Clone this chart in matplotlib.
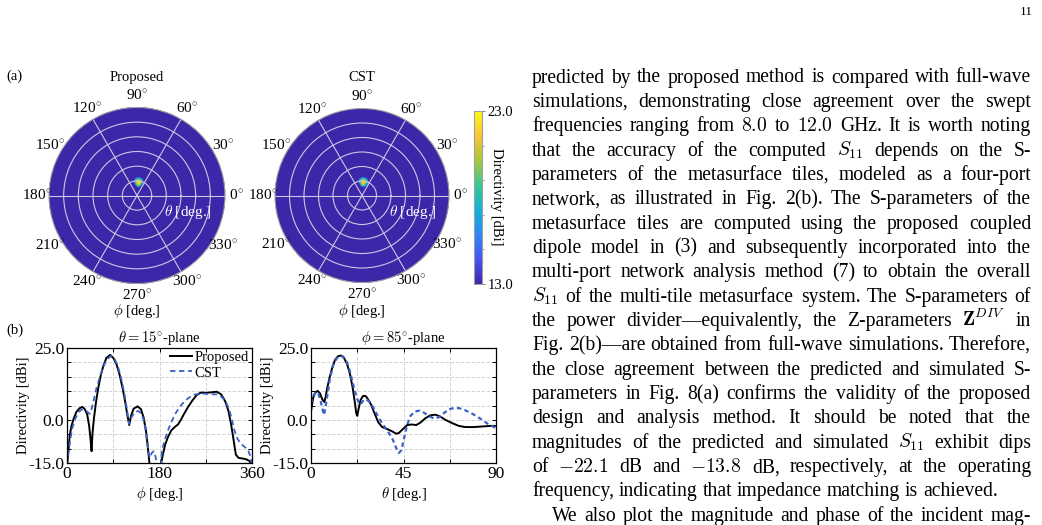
import numpy as np
import matplotlib
matplotlib.use('Agg')
import matplotlib.pyplot as plt
from matplotlib.colors import LinearSegmentedColormap

plt.rcParams['font.family'] = ['Liberation Serif', 'DejaVu Serif']
plt.rcParams['mathtext.fontset'] = 'cm'

# theta = 15 deg plane: directivity [dBi] vs phi [deg]
phi_prop = [0, 2.6, 5.2, 8.5, 13.1, 18.3, 24.2, 29.5, 34, 39.3, 43.2, 45.8, 47.8, 49.7,
            52.4, 56.3, 60.9, 65.5, 70.7, 76.6, 83.8, 90.3, 96.2, 102.1, 108, 113.2,
            117.8, 121.1, 124.4, 129.6, 137.4, 144, 149.2, 153.8, 157.1, 160.4, 163,
            181, 183.3, 186.5, 191.1, 196.4, 202.9, 209.5, 216, 221.2, 227.8, 235.6,
            243.5, 252, 260.5, 271.6, 281.4, 291.3, 299.8, 307.6, 314.2, 319.4, 324,
            328.6, 333.8, 343.6, 350.2, 355.4, 360]
dir_phi_prop = [-16, -10.9, -5.7, -2.2, 0.5, 2.8, 4.0, 4.5, 3.9, 1.9, -2.2, -6.8, -10.9,
                -4.5, 0.5, 6.0, 11.2, 15.3, 18.8, 21.5, 22.6, 21.5, 19.4, 15.9, 11.2,
                6.3, 1.3, -1.8, 1.3, 3.9, 4.7, 3.7, 0.7, -3.9, -9.2, -15, -20,
                -20, -15, -12.1, -8.6, -6.0, -3.7, -2.5, -1.6, -0.1, 2.1, 4.5,
                6.6, 8.6, 9.5, 9.4, 9.6, 9.8, 8.9, 6.6, 3.1, -1.6, -6.8,
                -12.1, -13.2, -13.5, -13.8, -14.4, -15.6]
phi_cst = [0, 3.3, 6.5, 10.5, 16.4, 22.9, 29.5, 36, 41.2, 44.5, 47.8, 52.4, 57.6, 63.5,
           70, 77.2, 85.1, 91.6, 98.2, 104.7, 111.3, 116.5, 121.1, 125.7, 132.2, 138.8,
           145.3, 150.5, 154.5, 158.4, 161, 164.9, 168.9, 172.1, 175.4, 178,
           181, 184.6, 189.8, 196.4, 202.9, 210.7, 219.3, 227.8, 236.9, 246.7, 256.6,
           268.3, 280.1, 291.3, 301.1, 308.9, 315.5, 320.7, 325.9, 331.8, 338.4, 345.6,
           352.2, 356.7, 360]
dir_phi_cst = [-15.6, -10.9, -6.8, -2.7, 0.5, 2.8, 3.7, 3.4, 2.5, 2.1, 3.7, 7.2, 11.2, 14.7,
               18.2, 20.9, 22.2, 21.4, 19.2, 15.0, 9.5, 3.7, -1.4, 1.0, 2.7, 3.1,
               2.1, -1.0, -5.7, -10.9, -13.2, -11.5, -10.9, -12.7, -15.6, -20,
               -20, -10.9, -7.2, -3.7, -0.8, 2.1, 4.5, 6.3, 7.7, 8.7, 9.1,
               9.1, 8.9, 8.9, 8.0, 6.3, 3.7, 0.2, -3.7, -6.6, -8.3, -9.4,
               -10.3, -12.7, -15.6]

# phi = 85 deg plane: directivity [dBi] vs theta [deg]
theta_prop = [0, 0.5, 1.1, 2.1, 3.2, 4.4, 5.5, 6.5, 7.1, 7.9, 9.1, 10.4, 11.7, 13.1, 14.6,
              16, 17.5, 18.9, 20.2, 21.4, 22, 22.5, 23.2, 24.1, 25.3, 26.6, 27.8, 29.3,
              30.9, 32.7, 34.6, 37.1, 39.5, 41.4, 42.7, 44.7, 46.8, 48.9, 51.2, 53.3,
              55.7, 58.1, 60.6, 63, 65.4, 68.6, 71.9, 75.1, 79.2, 83.2, 87.3, 90]
dir_theta_prop = [2.9, 5.2, 7.8, 9.5, 10.1, 9.2, 7.1, 6.2, 8.0, 11.1, 14.9, 18.3, 20.9, 22.1,
                  22.4, 21.6, 19.5, 16.1, 11.5, 5.7, 2.3, 1.4, 4.0, 6.9, 8.3, 8.3, 7.1, 5.2,
                  2.3, -0.8, -2.5, -3.2, -4.0, -4.8, -4.6, -3.2, -1.8, -1.6, -1.8, -0.9,
                  0.6, 1.6, 1.8, 1.1, 0.0, -1.1, -2.1, -2.5, -2.5, -2.3, -2.1, -2.1]
theta_cst = [0, 1, 2.3, 3.4, 4.5, 5.5, 6.3, 7.1, 8.1, 9.2, 10.7, 12.3, 13.9, 15.5, 17.2,
             18.8, 20.4, 22, 23.3, 24.3, 25.6, 26.9, 28.5, 30.6, 33, 35.5, 37.9, 39.8,
             41.4, 42.7, 44, 45.3, 46.8, 48.4, 50.5, 52.8, 55, 57.3, 59.7, 62.2, 64.6,
             67, 69.5, 71.9, 74.8, 77.5, 80.3, 83.2, 86.1, 90]
dir_theta_cst = [5.7, 8.3, 9.6, 9.4, 7.1, 4.0, 1.7, 4.6, 9.2, 14.3, 18.9, 21.2, 22.2, 22.1,
                 20.6, 17.2, 12.6, 8.3, 5.7, 5.5, 6.9, 7.1, 6.3, 4.0, 0.6, -2.1, -4.6, -6.9,
                 -9.7, -11.5, -10.6, -6.3, -1.7, 1.4, 2.9, 3.2, 2.5, 1.4, 0.5, 0.9, 2.3,
                 3.7, 4.1, 4.1, 3.4, 2.5, 1.4, 0.0, -1.4, -2.9]

polar_angles = list(range(0, 360, 30))
cbar_range = [13.0, 23.0]

parula = LinearSegmentedColormap.from_list('parula', [
    (0.2422, 0.1504, 0.6603), (0.2810, 0.3228, 0.9579), (0.1786, 0.5289, 0.9682),
    (0.0689, 0.6948, 0.8394), (0.2161, 0.7843, 0.5923), (0.6720, 0.7793, 0.2227),
    (0.9970, 0.7659, 0.2199), (0.9769, 0.9839, 0.0805)])

W, H = 1042, 525
fig = plt.figure(figsize=(W / 100, H / 100), dpi=100)


def px_axes(x0, y0, x1, y1, **kw):
    return fig.add_axes([x0 / W, 1 - y1 / H, (x1 - x0) / W, (y1 - y0) / H], **kw)


def ftext(x, y, s, **kw):
    return fig.text(x / W, 1 - y / H, s, **kw)


# ---------- (a) polar directivity maps ----------
def polar_map(cx, cy, r, th_x, th_d, ph_x, ph_d, title):
    ax = px_axes(cx - r, cy - r, cx + r, cy + r, projection='polar')
    th = np.linspace(0, 90, 181)
    ph = np.linspace(0, 360, 361)
    d_th = np.interp(th, th_x, th_d)
    d_ph = np.interp(ph, ph_x, ph_d)
    D = d_th[:, None] + d_ph[None, :] - max(th_d)
    mesh = ax.pcolormesh(np.deg2rad(ph), th, D, cmap=parula, vmin=cbar_range[0],
                         vmax=cbar_range[1], shading='gouraud', rasterized=True)
    ax.set_ylim(0, 90)
    ax.set_yticks([15, 30, 45, 60, 75])
    ax.set_yticklabels([])
    ax.yaxis.grid(True, color='#c9c9e6', lw=0.8)
    ax.xaxis.grid(False)
    for a in range(0, 360, 60):
        ax.plot([np.deg2rad(a)] * 2, [0, 90], color='#c9c9e6', lw=0.8, zorder=2)
    ax.set_xticks(np.deg2rad(polar_angles))
    ax.set_xticklabels([f'{a}$^{{\\circ}}$' for a in polar_angles], fontsize=11)
    ax.tick_params(axis='x', pad=-2)
    ax.spines['polar'].set_color('#a0a0a0')
    ax.text(np.deg2rad(-18), 55, r'$\theta$ [deg.]', color='white', fontsize=11,
            ha='center', va='center')
    ftext(cx, 77, title, fontsize=10.5, ha='center', va='center')
    ftext(cx, 311, r'$\phi$ [deg.]', fontsize=10.5, ha='center', va='center')
    return mesh


polar_map(137, 195.5, 88, theta_prop, dir_theta_prop, phi_prop, dir_phi_prop, 'Proposed')
mesh = polar_map(362, 195.5, 87, theta_cst, dir_theta_cst, phi_cst, dir_phi_cst, 'CST')

cax = px_axes(474, 111, 482, 284)
cb = fig.colorbar(mesh, cax=cax)
cb.set_ticks(cbar_range)
cb.set_ticklabels([f'{v:.1f}' for v in cbar_range])
cb.minorticks_on()
cax.tick_params(labelsize=10.5, length=2, width=0.6, color='#707070', pad=2)
cax.tick_params(which='minor', length=1.5, width=0.5, color='#707070')
cb.outline.set_edgecolor('#a0a0a0')
ftext(497, 197, 'Directivity [dBi]', fontsize=10.5, rotation=-90, ha='center', va='center')

ftext(14, 76, '(a)', fontsize=10.5, ha='center', va='center')
ftext(14.5, 330, '(b)', fontsize=10.5, ha='center', va='center')


# ---------- (b) cuts ----------
def cut_axes(x0, x1, xmax, xt, xtl, xlab, title):
    ax = px_axes(x0, 348, x1, 463)
    ax.set_xlim(0, xmax)
    ax.set_ylim(-15, 25)
    ax.set_xticks(xt)
    ax.set_xticklabels(xtl)
    yt = list(range(-15, 26, 5))
    ax.set_yticks(yt)
    ax.set_yticklabels([f'{v:.1f}' if v in (-15, 0, 25) else '' for v in yt])
    ax.grid(True, ls='--', color='#d4d4d4', lw=0.7)
    ax.tick_params(direction='in', top=True, right=True, length=3, width=0.7,
                   labelsize=12.5, pad=2)
    for s in ax.spines.values():
        s.set_linewidth(0.9)
    ax.set_xlabel(xlab, fontsize=10.5, labelpad=2)
    ax.set_ylabel('Directivity [dBi]', fontsize=10.5, labelpad=-1)
    ax.set_title(title, fontsize=10.5, pad=4)
    return ax


ax1 = cut_axes(67, 252, 360, [0, 90, 180, 270, 360], ['0', '', '180', '', '360'],
               r'$\phi$ [deg.]', r'$\theta = 15^{\circ}$-plane')
ax1.plot(phi_prop, dir_phi_prop, color='k', lw=1.4, label='Proposed')
ax1.plot(phi_cst, dir_phi_cst, color='#3d5fc8', lw=1.3, ls=(0, (3, 2)), label='CST')
ax1.legend(loc='upper right', frameon=False, fontsize=10.5, handlelength=1.5,
           handletextpad=0.2, labelspacing=0.15, borderaxespad=0.1, borderpad=0.1)

ax2 = cut_axes(311, 496, 90, [0, 22.5, 45, 67.5, 90], ['0', '', '45', '', '90'],
               r'$\theta$ [deg.]', r'$\phi = 85^{\circ}$-plane')
ax2.plot(theta_prop, dir_theta_prop, color='k', lw=1.4)
ax2.plot(theta_cst, dir_theta_cst, color='#3d5fc8', lw=1.6, ls=(0, (2, 1.5)))

# ---------- page text ----------
ftext(1026, 12, '11', fontsize=9.5, ha='center', va='center')

body_lines = [
    "predicted by the proposed method is compared with full-wave",
    "simulations, demonstrating close agreement over the swept",
    "frequencies ranging from $8.0$ to $12.0$ GHz. It is worth noting",
    "that the accuracy of the computed $S_{11}$ depends on the S-",
    "parameters of the metasurface tiles, modeled as a four-port",
    "network, as illustrated in Fig. 2(b). The S-parameters of the",
    "metasurface tiles are computed using the proposed coupled",
    "dipole model in (3) and subsequently incorporated into the",
    "multi-port network analysis method (7) to obtain the overall",
    "$S_{11}$ of the multi-tile metasurface system. The S-parameters of",
    "the power divider\u2014equivalently, the Z-parameters $\\mathbf{Z}^{DIV}$ in",
    "Fig. 2(b)\u2014are obtained from full-wave simulations. Therefore,",
    "the close agreement between the predicted and simulated S-",
    "parameters in Fig. 8(a) confirms the validity of the proposed",
    "design and analysis method. It should be noted that the",
    "magnitudes of the predicted and simulated $S_{11}$ exhibit dips",
    "of $-22.1$ dB and $-13.8$ dB, respectively, at the operating",
    "frequency, indicating that impedance matching is achieved.",
    "We also plot the magnitude and phase of the incident mag-",
    "netic fields along the slot, $\\psi^{\\pm}$ in (18) and (19) in Fig. 8(b). As",
]
ragged = {17}
indented = {18}
left, right = 532, 1031
fs = 14.1
base0, lead = 82.5, 24.35

renderer = fig.canvas.get_renderer()
for k, line in enumerate(body_lines):
    y = base0 + k * lead
    x0 = left + (20 if k in indented else 0)
    words = line.split(' ')
    arts = [ftext(0, y, w, fontsize=fs, va='baseline', ha='left') for w in words]
    widths = [a.get_window_extent(renderer).width for a in arts]
    if k in ragged:
        gap = 0.25 * fs / 0.72
    else:
        gap = (right - x0 - sum(widths)) / (len(words) - 1)
    x = x0
    for a, w in zip(arts, widths):
        a.set_x(x / W)
        x += w + gap

fig.savefig('out.png', dpi=100)
